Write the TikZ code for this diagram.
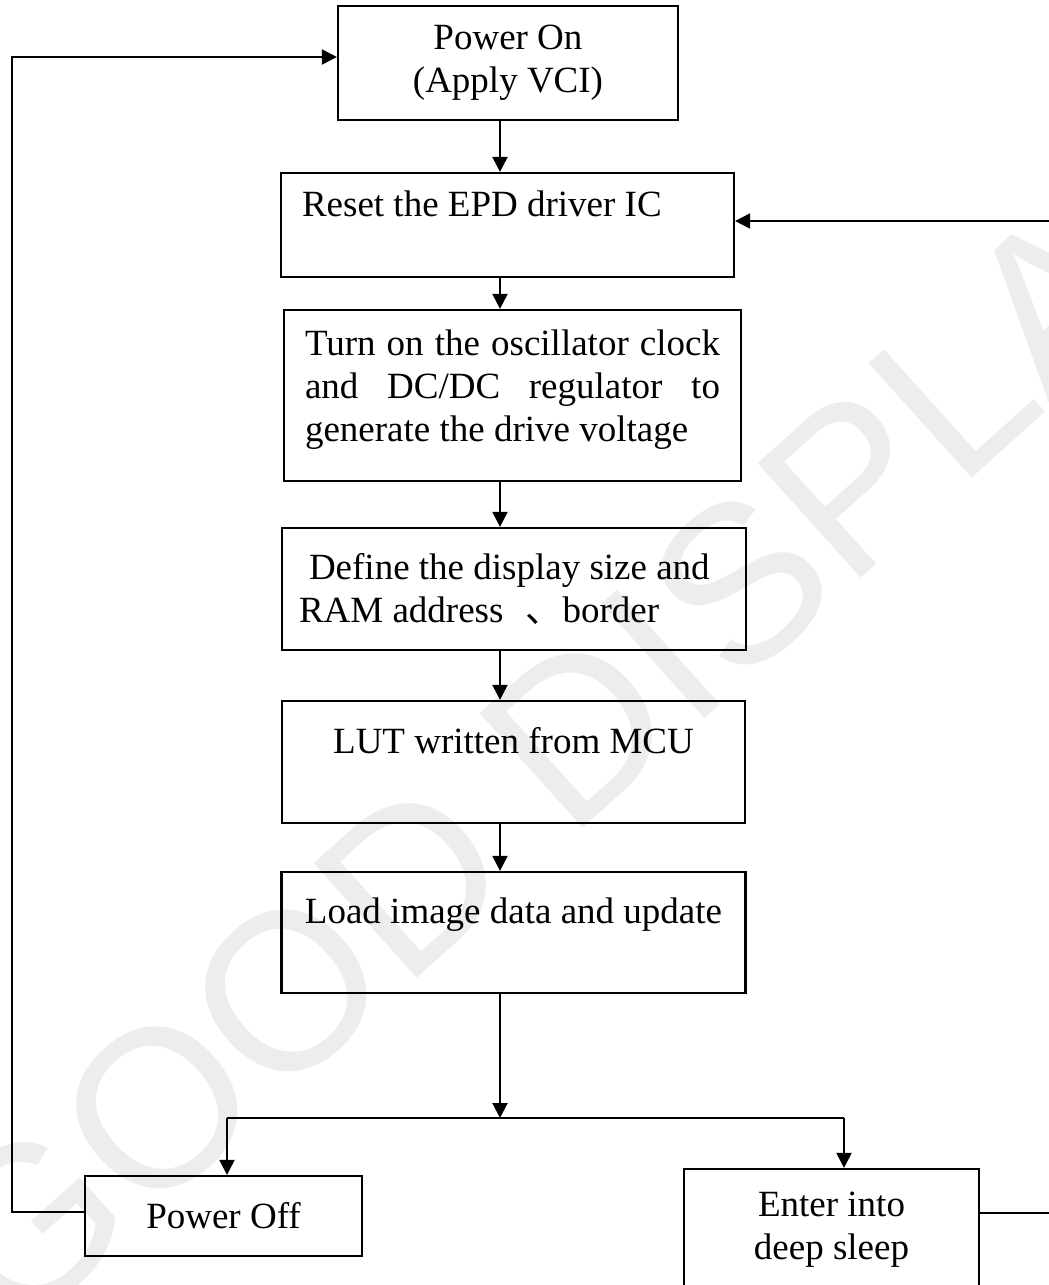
\documentclass[tikz,border=0pt]{standalone}
\usepackage{fontspec}
\setmainfont{Liberation Serif}
\newfontfamily\cjkfont{Noto Sans CJK SC}
\newfontfamily\markfont{Liberation Sans}
\usetikzlibrary{arrows.meta}

\tikzset{
  stepbox/.style 2 args={draw, line width=1.1pt, inner sep=0pt,
    minimum width=#1, minimum height=#2,
    font=\fontsize{18.5pt}{21.5pt}\selectfont},
  arr/.style={line width=1pt, -{Triangle[length=7.5pt,width=7.5pt]}},
  link/.style={line width=1pt},
  watermark/.style={text=black!7, rotate=42, inner sep=0pt,
    font=\markfont\fontsize{112pt}{112pt}\selectfont}
}

\begin{document}
\begin{tikzpicture}[x=0.5pt, y=-0.5pt]
  \useasboundingbox (0,0) rectangle (1049,1285);
  \clip (0,0) rectangle (1049,1285);
  \node[watermark] (wm) at (586,722) {GOOD DISPLAY};

  \node[stepbox={170pt}{57pt}, align=center] (pon) at (508,63) {Power On\\(Apply VCI)};
  \node[stepbox={226.5pt}{52pt}, text width=205.5pt, align=flush left] (reset) at (507.5,225) {Reset the EPD driver IC\\~};
  \node[stepbox={228.5pt}{85.5pt}, text width=207.5pt, align=justify] (turnon) at (512.5,395.5)
    {Turn on the oscillator clock\linebreak and DC/DC regulator to\linebreak generate the drive voltage\\[-12pt]\mbox{}};
  \node[stepbox={232pt}{61pt}, text width=215pt, align=flush left] (define) at (514,589)
    {\hspace{5pt}Define the display size and\\RAM address\hspace{11pt}{\cjkfont 、}border};
  \node[stepbox={231.5pt}{61pt}, align=center] (lut) at (513.5,762) {LUT written from MCU\\~};
  \node[stepbox={232pt}{60.5pt}, align=center] (load) at (513.5,932.5) {Load image data and update\\~};
  \node[stepbox={138.5pt}{40pt}] (poff) at (223.5,1216) {Power Off};
  \node[stepbox={147.5pt}{78pt}, align=center] (sleep) at (831.5,1247) {Enter into\\deep sleep\\~};

  \coordinate (spine) at (500,0);
  \coordinate (split) at (500,1118);
  \coordinate (offdrop) at (227,1118);
  \coordinate (sleepdrop) at (844,1118);
  \coordinate (leftrail) at (12,0);
  \coordinate (rightrail) at (1070,0);

  \draw[arr] (pon.south -| spine) -- (reset.north -| spine);
  \draw[arr] (reset.south -| spine) -- (turnon.north -| spine);
  \draw[arr] (turnon.south -| spine) -- (define.north -| spine);
  \draw[arr] (define.south -| spine) -- (lut.north -| spine);
  \draw[arr] (lut.south -| spine) -- (load.north -| spine);
  \draw[arr] (load.south -| spine) -- (split);
  \draw[link] (offdrop) -- (sleepdrop);
  \draw[arr] (offdrop) -- (offdrop |- poff.north);
  \draw[arr] (sleepdrop) -- (sleepdrop |- sleep.north);
  \draw[arr] ([yshift=2pt]poff.west) -- ([yshift=2pt]poff.west -| leftrail) |- ([yshift=3pt]pon.west);
  \draw[arr] ([yshift=17pt]sleep.east) -- ([yshift=17pt]sleep.east -| rightrail) |- ([yshift=2pt]reset.east);
\end{tikzpicture}
\end{document}
